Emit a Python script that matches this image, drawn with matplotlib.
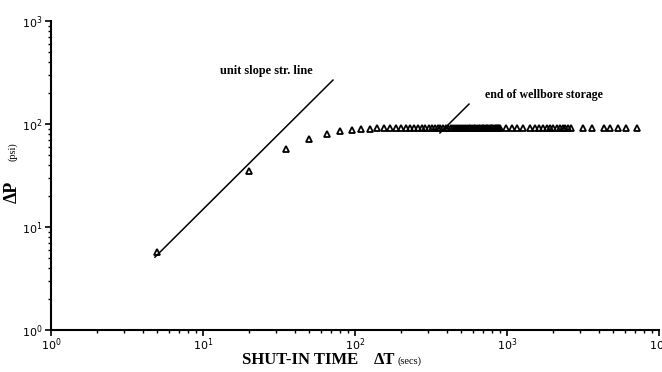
import matplotlib
matplotlib.use("Agg")
import matplotlib.pyplot as plt

# shut-in time (secs) and pressure change (psi)
t_early = [5, 20, 35, 50, 65, 80, 95, 110, 125, 140]
dp_early = [5.7, 35, 57, 72, 80, 85, 88, 89, 90, 91]

t_flat = [155, 170, 185, 200, 215, 230, 245, 260, 275, 290, 305, 320, 335,
          350, 365, 380, 395, 410, 425, 440, 455, 470, 485, 500, 515, 530,
          545, 560, 575, 590, 605, 620, 635, 650, 665, 680, 695, 710, 725,
          740, 755, 770, 785, 800, 815, 830, 845, 860, 875, 890, 905,
          990, 1080, 1170, 1270,
          1420, 1520, 1620, 1720, 1820, 1920, 2020, 2120, 2220, 2320, 2420,
          2520, 2620,
          3160, 3600, 4330, 4750, 5360, 6070, 7120]
dp_flat = [92] * len(t_flat)

# straight lines drawn on the chart
unit_x = [4.83, 71.6]
unit_y = [5.1, 267]
wbs_x = [362, 562]
wbs_y = [81.8, 156]

W, H = 662, 372
fig = plt.figure(figsize=(W / 100, H / 100), dpi=100)
ax = fig.add_axes([51 / W, 1 - 330 / H, 608 / W, 309 / H])

ax.plot(t_early + t_flat, dp_early + dp_flat, linestyle="none", marker="^",
        markersize=4.5, markerfacecolor="none", markeredgecolor="black",
        markeredgewidth=1.3)
ax.plot(unit_x, unit_y, color="black", lw=1.1)
ax.plot(wbs_x, wbs_y, color="black", lw=1.1)

ax.set_xscale("log")
ax.set_yscale("log")
ax.set_xlim(1, 1e4)
ax.set_ylim(1, 1e3)

for s in ["top", "right"]:
    ax.spines[s].set_visible(False)
for s in ["left", "bottom"]:
    ax.spines[s].set_linewidth(1.5)

ax.tick_params(which="major", direction="out", length=4, width=1.2,
               labelsize=8, pad=2)
ax.tick_params(axis="x", which="major", pad=0.5)
ax.tick_params(which="minor", direction="out", length=2.5, width=1.0)

serif = ["Liberation Serif", "DejaVu Serif"]
ax.text(26, 327, "unit slope str. line", fontsize=8.8, fontweight="bold",
        family=serif, ha="center", va="center")
ax.text(1750, 191, "end of wellbore storage", fontsize=8.6, fontweight="bold",
        family=serif, ha="center", va="center")

# axis titles
fig.text(300 / W, 1 - 360 / H, "SHUT-IN TIME", fontsize=12, fontweight="bold",
         family=serif, ha="center", va="center")
fig.text(385 / W, 1 - 360 / H, "ΔT", fontsize=12, fontweight="bold",
         family=serif, ha="center", va="center")
fig.text(409 / W, 1 - 361 / H, "(secs)", fontsize=7.5, family=serif,
         ha="center", va="center")
fig.text(12 / W, 1 - 192 / H, "ΔP", fontsize=13, fontweight="bold",
         family=serif, ha="center", va="center", rotation=90)
fig.text(13 / W, 1 - 152 / H, "(psi)", fontsize=7.5, family=serif,
         ha="center", va="center", rotation=90)

fig.savefig("out.png", dpi=100)
